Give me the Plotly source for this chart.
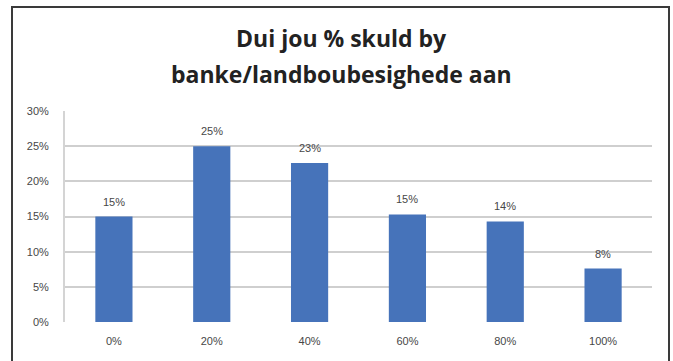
import plotly.graph_objects as go

# Share of debt owed to banks / agricultural businesses
categories = ["0%", "20%", "40%", "60%", "80%", "100%"]
shares = [0.150, 0.250, 0.226, 0.153, 0.143, 0.076]
y_ticks = [0, 0.05, 0.10, 0.15, 0.20, 0.25, 0.30]
y_tick_labels = ["0%", "5%", "10%", "15%", "20%", "25%", "30%"]
title_lines = ["Dui jou % skuld by", "banke/landboubesighede aan"]

W, H = 673, 361
ML, MR, MT, MB = 65, 21, 111, 39
PW, PH = W - ML - MR, H - MT - MB

def px_x(p):
    return (p - ML) / PW

def px_y(p):
    return (H - MB - p) / PH

BAR = "#4673BA"
TXT = "#474747"
LABEL_FONT = dict(family="Liberation Sans, Arial", size=11, color=TXT)
TITLE_FONT = dict(family="Open Sans, Liberation Sans", size=23, color="#222222", weight="bold")

fig = go.Figure()
fig.add_trace(go.Bar(
    x=categories,
    y=shares,
    marker=dict(color=BAR, line=dict(width=0)),
    hoverinfo="skip",
))

# value labels above each bar
for c, v in zip(categories, shares):
    fig.add_annotation(
        x=c, y=v, xref="x", yref="y",
        text=f"{v:.0%}", showarrow=False,
        yshift=15, yanchor="middle",
        font=LABEL_FONT,
    )

# chart title (two lines)
for line, ypx in zip(title_lines, [38, 74]):
    fig.add_annotation(
        x=px_x(341), y=px_y(ypx), xref="paper", yref="paper",
        text=line, showarrow=False, xanchor="center", yanchor="middle",
        font=TITLE_FONT,
    )

# outer chart frame
fig.add_shape(
    type="rect", xref="paper", yref="paper",
    x0=px_x(12), x1=px_x(669), y0=px_y(370), y1=px_y(7),
    line=dict(color="#3a3a3a", width=2), fillcolor="rgba(0,0,0,0)", layer="below",
)

fig.update_layout(
    width=W, height=H,
    margin=dict(l=ML, r=MR, t=MT, b=MB),
    paper_bgcolor="white", plot_bgcolor="white",
    showlegend=False,
    bargap=0.62,
    xaxis=dict(
        type="category",
        showgrid=False, zeroline=False,
        showline=False, ticks="",
        tickfont=LABEL_FONT,
        ticklabelstandoff=11,
        fixedrange=True,
    ),
    yaxis=dict(
        range=[0, 0.30],
        tickvals=y_ticks, ticktext=y_tick_labels,
        showgrid=True, gridcolor="#cfcfcf", gridwidth=2,
        zeroline=False,
        showline=True, linecolor="#d4d4d4", linewidth=2,
        ticks="",
        tickfont=LABEL_FONT,
        ticklabelstandoff=12,
        fixedrange=True,
    ),
)

fig.write_html("out.html")
